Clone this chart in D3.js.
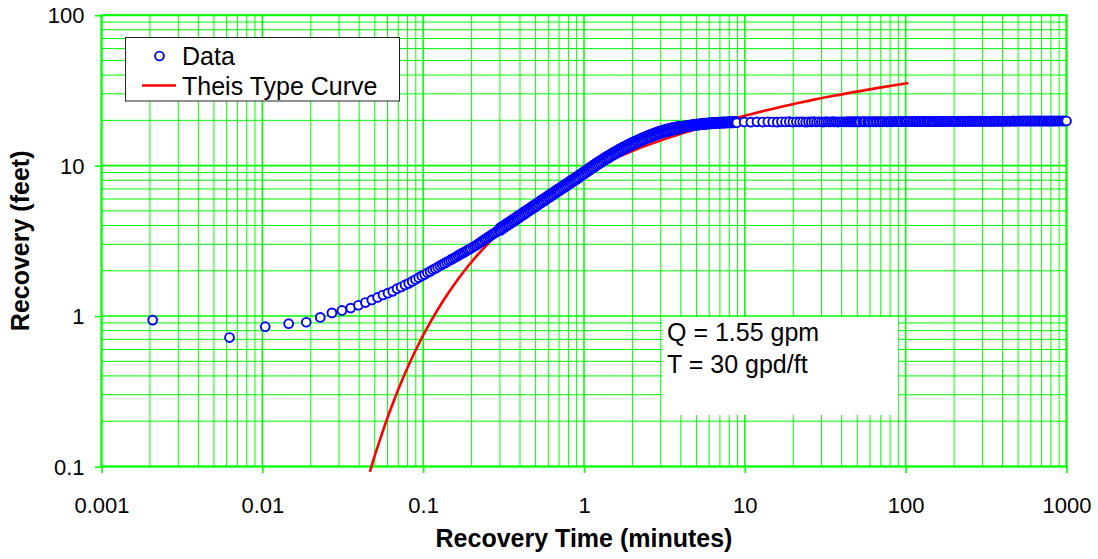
<!DOCTYPE html>
<html>
<head>
<meta charset="utf-8">
<script src="https://cdn.jsdelivr.net/npm/d3@7"></script>
<style>
  html, body { margin: 0; padding: 0; background: #ffffff; }
  svg { display: block; }
  text { font-family: "Liberation Sans", Arial, sans-serif; fill: #000; }
</style>
</head>
<body>
<svg id="chart" width="1098" height="559"></svg>
<script>
// Recovery readings, first part: 0.25-s logger readings
const earlyTime = [0.00208, 0.00625, 0.01042, 0.01458, 0.01875, 0.02292, 0.02708, 0.03125, 0.03542, 0.03958,
  0.04375, 0.04792, 0.05208, 0.05625, 0.06042, 0.06458, 0.06875, 0.07292, 0.07708, 0.08125,
  0.08542, 0.08958, 0.09375, 0.09792, 0.10208, 0.10625, 0.11042, 0.11458, 0.11875, 0.12292,
  0.12708, 0.13125, 0.13542, 0.13958, 0.14375, 0.14792, 0.15208, 0.15625, 0.16042, 0.16458,
  0.16875, 0.17292, 0.17708, 0.18125, 0.18542, 0.18958, 0.19375, 0.19792];
const earlyRecovery = [0.94, 0.72, 0.85, 0.89, 0.91, 0.98, 1.05, 1.09, 1.13, 1.18,
  1.23, 1.28, 1.33, 1.38, 1.42, 1.46, 1.52, 1.56, 1.61, 1.65,
  1.70, 1.75, 1.80, 1.85, 1.89, 1.94, 1.98, 2.03, 2.07, 2.11,
  2.16, 2.20, 2.24, 2.28, 2.32, 2.36, 2.40, 2.44, 2.48, 2.52,
  2.56, 2.60, 2.63, 2.67, 2.71, 2.75, 2.78, 2.82];

// readings 0.2 - 0.3 min
const riseTime = [0.204, 0.209, 0.214, 0.219, 0.224, 0.229, 0.234, 0.240, 0.245, 0.251,
  0.257, 0.263, 0.269, 0.275, 0.282, 0.288, 0.295];
const riseRecovery = [2.87, 2.92, 2.96, 3.01, 3.06, 3.11, 3.16, 3.22, 3.27, 3.32,
  3.38, 3.43, 3.49, 3.54, 3.60, 3.66, 3.73];

// readings 0.3 - 9 min
const denseTime = [
  0.2985, 0.3020, 0.3055, 0.3090, 0.3126, 0.3162, 0.3199, 0.3236, 0.3273, 0.3311,
  0.3350, 0.3388, 0.3428, 0.3467, 0.3508, 0.3548, 0.3589, 0.3631, 0.3673, 0.3715,
  0.3758, 0.3802, 0.3846, 0.3890, 0.3936, 0.3981, 0.4027, 0.4074, 0.4121, 0.4169,
  0.4217, 0.4266, 0.4315, 0.4365, 0.4416, 0.4467, 0.4519, 0.4571, 0.4624, 0.4677,
  0.4732, 0.4786, 0.4842, 0.4898, 0.4955, 0.5012, 0.5070, 0.5129, 0.5188, 0.5248,
  0.5309, 0.5370, 0.5433, 0.5495, 0.5559, 0.5623, 0.5689, 0.5754, 0.5821, 0.5888,
  0.5957, 0.6026, 0.6095, 0.6166, 0.6237, 0.6310, 0.6383, 0.6457, 0.6531, 0.6607,
  0.6683, 0.6761, 0.6839, 0.6918, 0.6998, 0.7079, 0.7161, 0.7244, 0.7328, 0.7413,
  0.7499, 0.7586, 0.7674, 0.7762, 0.7852, 0.7943, 0.8035, 0.8128, 0.8222, 0.8318,
  0.8414, 0.8511, 0.8610, 0.8710, 0.8810, 0.8913, 0.9016, 0.9120, 0.9226, 0.9333,
  0.9441, 0.9550, 0.9661, 0.9772, 0.9886,
  1.000, 1.012, 1.023, 1.035, 1.047, 1.059, 1.072, 1.084, 1.096, 1.109,
  1.122, 1.135, 1.148, 1.161, 1.175, 1.189, 1.202, 1.216, 1.230, 1.245,
  1.259, 1.274, 1.288, 1.303, 1.318, 1.334, 1.349, 1.365, 1.380, 1.396,
  1.413, 1.429, 1.445, 1.462, 1.479, 1.496, 1.514, 1.531, 1.549, 1.567,
  1.585, 1.603, 1.622, 1.641, 1.660, 1.679, 1.698, 1.718, 1.738, 1.758,
  1.778, 1.799, 1.820, 1.841, 1.862, 1.884, 1.905, 1.928, 1.950, 1.972,
  1.995, 2.018, 2.042, 2.065, 2.089, 2.113, 2.138, 2.163, 2.188, 2.213,
  2.239, 2.265, 2.291, 2.317, 2.344, 2.371, 2.399, 2.427, 2.455, 2.483,
  2.512, 2.541, 2.570, 2.600, 2.630, 2.661, 2.692, 2.723, 2.754, 2.786,
  2.818, 2.851, 2.884, 2.917, 2.951, 2.985, 3.020, 3.055, 3.090, 3.126,
  3.162, 3.199, 3.236, 3.273, 3.311, 3.350, 3.388, 3.428, 3.467, 3.508,
  3.548, 3.589, 3.631, 3.673, 3.715, 3.758, 3.802, 3.846, 3.890, 3.936,
  3.981, 4.027, 4.074, 4.121, 4.169, 4.217, 4.266, 4.315, 4.365, 4.416,
  4.467, 4.519, 4.571, 4.624, 4.677, 4.732, 4.786, 4.842, 4.898, 4.955,
  5.012, 5.070, 5.129, 5.188, 5.248, 5.309, 5.370, 5.433, 5.495, 5.559,
  5.623, 5.689, 5.754, 5.821, 5.888, 5.957, 6.026, 6.095, 6.166, 6.237,
  6.310, 6.383, 6.457, 6.531, 6.607, 6.683, 6.761, 6.839, 6.918, 6.998,
  7.079, 7.161, 7.244, 7.328, 7.413, 7.499, 7.586, 7.674, 7.762, 7.852,
  7.943, 8.035, 8.128, 8.222, 8.318, 8.414, 8.511, 8.610, 8.710, 8.810,
  8.913];
const denseRecovery = [
  3.84, 3.71, 3.90, 3.78, 3.97, 3.84, 4.03, 3.91, 4.10, 3.97,
  4.17, 4.04, 4.23, 4.10, 4.30, 4.17, 4.37, 4.23, 4.45, 4.31,
  4.52, 4.38, 4.60, 4.46, 4.68, 4.53, 4.75, 4.61, 4.83, 4.68,
  4.92, 4.76, 5.00, 4.84, 5.08, 4.92, 5.17, 5.01, 5.25, 5.09,
  5.34, 5.17, 5.43, 5.25, 5.51, 5.34, 5.60, 5.43, 5.70, 5.53,
  5.80, 5.62, 5.90, 5.71, 5.99, 5.80, 6.09, 5.90, 6.19, 6.00,
  6.30, 6.11, 6.41, 6.20, 6.51, 6.30, 6.61, 6.41, 6.73, 6.52,
  6.84, 6.62, 6.95, 6.73, 7.06, 6.84, 7.18, 6.96, 7.30, 7.08,
  7.42, 7.18, 7.54, 7.30, 7.66, 7.42, 7.79, 7.55, 7.92, 7.67,
  8.05, 7.80, 8.19, 7.93, 8.32, 8.06, 8.46, 8.20, 8.61, 8.34,
  8.76, 8.49, 8.90, 8.62, 9.05,
  8.77, 9.21, 8.93, 9.37, 9.08, 9.54, 9.24, 9.70, 9.40, 9.86,
  9.56, 10.03, 9.72, 10.21, 9.89, 10.38, 10.05, 10.55, 10.22, 10.73,
  10.39, 10.90, 10.55, 11.07, 10.72, 11.25, 10.89, 11.42, 11.05, 11.59,
  11.22, 11.77, 11.39, 11.94, 11.55, 12.11, 11.72, 12.29, 11.89, 12.46,
  12.05, 12.63, 12.22, 12.81, 12.39, 12.98, 12.55, 13.15, 12.72, 13.33,
  12.89, 13.50, 13.05, 13.67, 13.22, 13.85, 13.39, 14.02, 13.55, 14.19,
  13.72, 14.36, 13.88, 14.52, 14.03, 14.69, 14.19, 14.85, 14.35, 15.01,
  14.50, 15.18, 14.66, 15.34, 14.82, 15.50, 14.97, 15.67, 15.13, 15.83,
  15.29, 15.99, 15.44, 16.14, 15.58, 16.29, 15.73, 16.45, 15.88, 16.60,
  16.02, 16.74, 16.15, 16.88, 16.28, 17.01, 16.41, 17.14, 16.53, 17.27,
  16.66, 17.40, 16.77, 17.51, 16.88, 17.62, 16.98, 17.73, 17.09, 17.84,
  17.20, 17.95, 17.29, 18.04, 17.38, 18.13, 17.46, 18.22, 17.55, 18.31,
  17.64, 18.22, 17.90, 18.30, 17.98, 18.38, 18.06, 18.46, 18.14, 18.54,
  18.22, 18.61, 18.28, 18.68, 18.34, 18.75, 18.40, 18.81, 18.47, 18.88,
  18.53, 18.93, 18.58, 18.98, 18.63, 19.04, 18.69, 19.09, 18.74, 19.14,
  18.79, 19.19, 18.83, 19.23, 18.87, 19.27, 18.91, 19.31, 18.95, 19.35,
  18.99, 19.39, 19.02, 19.42, 19.05, 19.44, 19.07, 19.47, 19.10, 19.50,
  19.13, 19.52, 19.15, 19.54, 19.17, 19.56, 19.19, 19.58, 19.21, 19.60,
  19.23, 19.62, 19.24, 19.63, 19.25, 19.64, 19.27, 19.66, 19.28, 19.67,
  19.29];

// readings after 9 min (1-min logger interval)
const lateTime = [9.9, 10.9, 11.9, 12.9, 13.9, 14.9, 15.9, 16.9, 17.9, 18.9,
  19.9, 20.9, 21.9, 22.9, 23.9, 24.9, 25.9, 26.9, 27.9, 28.9,
  29.9, 30.9, 31.9, 32.9, 33.9, 34.9, 35.9, 36.9, 37.9, 38.9, 39.9,
  41, 42, 43, 44, 45, 46, 47, 48, 49, 50,
  51, 52, 54, 55, 56, 58, 59, 60, 62, 63,
  65, 66, 68, 69, 71, 72, 74, 76, 78, 79,
  81, 83, 85, 87, 89, 91, 93, 95, 98, 100,
  102, 105, 107, 110, 112, 115, 117, 120, 123, 126,
  129, 132, 135, 138, 141, 145, 148, 151, 155, 158,
  162, 166, 170, 174, 178, 182, 186, 191, 195, 200,
  204, 209, 214, 219, 224, 229, 234, 240, 245, 251,
  257, 263, 269, 275, 282, 288, 295, 302, 309, 316,
  324, 331, 339, 347, 355, 363, 372, 380, 389, 398,
  407, 417, 427, 437, 447, 457, 468, 479, 490, 501,
  513, 525, 537, 550, 562, 575, 589, 603, 617, 631,
  646, 661, 676, 692, 708, 724, 741, 759, 776, 794,
  813, 832, 851, 871, 891, 912, 933, 955, 977, 1000];
const lateRecovery = [19.52, 19.45, 19.55, 19.48, 19.58, 19.50, 19.46, 19.56, 19.52, 19.60,
  19.49, 19.55, 19.51, 19.58, 19.47, 19.56, 19.53, 19.60, 19.50, 19.57,
  19.52, 19.48, 19.59, 19.54, 19.50, 19.61, 19.53, 19.57, 19.49, 19.58, 19.55,
  19.58, 19.50, 19.60, 19.52, 19.61, 19.50, 19.59, 19.53, 19.62, 19.51,
  19.60, 19.53, 19.62, 19.52, 19.61, 19.54, 19.63, 19.53, 19.62, 19.55,
  19.63, 19.54, 19.64, 19.55, 19.62, 19.56, 19.65, 19.55, 19.64, 19.57,
  19.65, 19.56, 19.66, 19.57, 19.65, 19.58, 19.67, 19.57, 19.66, 19.59,
  19.67, 19.58, 19.68, 19.59, 19.67, 19.60, 19.69, 19.59, 19.68, 19.61,
  19.69, 19.60, 19.70, 19.61, 19.69, 19.62, 19.71, 19.61, 19.70, 19.63,
  19.71, 19.62, 19.72, 19.63, 19.71, 19.64, 19.73, 19.63, 19.72, 19.65,
  19.73, 19.64, 19.74, 19.65, 19.73, 19.66, 19.75, 19.65, 19.74, 19.67,
  19.75, 19.66, 19.76, 19.67, 19.75, 19.68, 19.77, 19.67, 19.76, 19.69,
  19.77, 19.68, 19.78, 19.69, 19.77, 19.70, 19.79, 19.69, 19.78, 19.71,
  19.79, 19.70, 19.80, 19.71, 19.79, 19.72, 19.81, 19.71, 19.80, 19.73,
  19.81, 19.72, 19.82, 19.73, 19.81, 19.74, 19.83, 19.73, 19.82, 19.75,
  19.83, 19.74, 19.84, 19.75, 19.83, 19.76, 19.85, 19.75, 19.84, 19.77,
  19.85, 19.76, 19.86, 19.77, 19.85, 19.78, 19.87, 19.77, 19.86, 19.80];

// Theis type curve (Q = 1.55 gpm, T = 30 gpd/ft)
const theisTime = [0.0466, 0.05, 0.055, 0.06, 0.066, 0.073, 0.0825, 0.094, 0.1, 0.11,
  0.132, 0.165, 0.19, 0.22, 0.264, 0.33, 0.44, 0.66, 1.0, 1.32,
  2.0, 2.64, 4.0, 6.6, 10, 13.2, 20, 26.4, 40, 66, 104];
const theisRecovery = [0.092, 0.118, 0.161, 0.211, 0.277, 0.363, 0.490, 0.655, 0.746, 0.899,
  1.245, 1.763, 2.145, 2.579, 3.177, 3.986, 5.139, 6.938, 8.94, 10.34,
  12.52, 14.0, 16.27, 19.04, 21.47, 23.15, 25.64, 27.37, 29.77, 32.76, 35.40];

const xTickValues = [0.001, 0.01, 0.1, 1, 10, 100, 1000];
const xTickLabels = ["0.001", "0.01", "0.1", "1", "10", "100", "1000"];
const yTickValues = [0.1, 1, 10, 100];
const yTickLabels = ["0.1", "1", "10", "100"];
const legendLabels = ["Data", "Theis Type Curve"];
const noteLines = ["Q = 1.55 gpm", "T = 30 gpd/ft"];

const svg = d3.select("#chart");
const GREEN = "#00ff00";
const MARK_R = 4.4, MARK_W = 1.9;

const x = d3.scaleLog().domain([0.001, 1000]).range([101.5, 1066.5]);
const y = d3.scaleLog().domain([0.1, 100]).range([466.5, 15.2]);
const [x0, x1] = x.range();
const [y0, y1] = y.range(); // y0 bottom, y1 top

const isDecade = v => Math.abs(Math.log10(v) - Math.round(Math.log10(v))) < 1e-9;

// log grid
const grid = svg.append("g");
grid.selectAll("line.vx").data(x.ticks()).join("line")
  .attr("x1", d => x(d)).attr("x2", d => x(d))
  .attr("y1", y1).attr("y2", y0)
  .attr("stroke", GREEN)
  .attr("stroke-width", d => isDecade(d) ? 1.6 : 1);
grid.selectAll("line.hy").data(y.ticks()).join("line")
  .attr("x1", x0).attr("x2", x1)
  .attr("y1", d => y(d)).attr("y2", d => y(d))
  .attr("stroke", GREEN)
  .attr("stroke-width", d => isDecade(d) ? 1.6 : 1);

// plot frame
svg.append("rect")
  .attr("x", x0).attr("y", y1)
  .attr("width", x1 - x0).attr("height", y0 - y1)
  .attr("fill", "none").attr("stroke", GREEN).attr("stroke-width", 2);

// axes: tick marks and labels
const xAxis = svg.append("g").attr("transform", `translate(0,${y0})`)
  .call(d3.axisBottom(x).tickValues(xTickValues)
    .tickFormat((d, i) => xTickLabels[i]).tickSize(6.5));
xAxis.select(".domain").remove();
xAxis.selectAll(".tick line").attr("stroke", GREEN).attr("stroke-width", 1.6);
xAxis.selectAll(".tick text")
  .attr("y", 46).attr("dy", null)
  .style("font-family", '"Liberation Sans", Arial, sans-serif')
  .style("font-size", "22px").attr("fill", "#000");

const yAxis = svg.append("g").attr("transform", `translate(${x0},0)`)
  .call(d3.axisLeft(y).tickValues(yTickValues)
    .tickFormat((d, i) => yTickLabels[i]).tickSize(6.5));
yAxis.select(".domain").remove();
yAxis.selectAll(".tick line").attr("stroke", GREEN).attr("stroke-width", 1.6);
yAxis.selectAll(".tick text")
  .attr("x", -17).attr("dy", "0.35em")
  .style("font-family", '"Liberation Sans", Arial, sans-serif')
  .style("font-size", "22px").attr("fill", "#000");

// axis titles
svg.append("text")
  .attr("x", (x0 + x1) / 2).attr("y", 547)
  .attr("text-anchor", "middle")
  .style("font-size", "25px").style("font-weight", "bold")
  .text("Recovery Time (minutes)");
svg.append("text")
  .attr("transform", `translate(29,${(y0 + y1) / 2}) rotate(-90)`)
  .attr("text-anchor", "middle")
  .style("font-size", "25px").style("font-weight", "bold")
  .text("Recovery (feet)");

// Theis type curve
const theis = theisTime.map((t, i) => [t, theisRecovery[i]]);
svg.append("path")
  .datum(theis)
  .attr("fill", "none").attr("stroke", "#ff0000").attr("stroke-width", 2.6)
  .attr("d", d3.line().x(d => x(d[0])).y(d => y(d[1])).curve(d3.curveMonotoneX));

// measured recovery, drawn in time order
const pairs = (ts, vs) => ts.map((t, i) => [t, vs[i]]);
const data = [].concat(
  pairs(earlyTime, earlyRecovery),
  pairs(riseTime, riseRecovery),
  pairs(denseTime, denseRecovery),
  pairs(lateTime, lateRecovery)
).filter(d => d[1] !== undefined);
svg.append("g").selectAll("circle").data(data).join("circle")
  .attr("cx", d => x(d[0])).attr("cy", d => y(d[1]))
  .attr("r", MARK_R)
  .attr("fill", "#ffffff").attr("stroke", "#0000ff").attr("stroke-width", MARK_W);

// parameter note
svg.append("rect")
  .attr("x", 662).attr("y", 317).attr("width", 236).attr("height", 98)
  .attr("fill", "#ffffff");
svg.append("g").selectAll("text").data(noteLines).join("text")
  .attr("x", 667).attr("y", (d, i) => 341 + i * 32)
  .style("font-size", "25px")
  .text(d => d);

// legend
const lg = svg.append("g");
lg.append("rect")
  .attr("x", 125.5).attr("y", 37.5).attr("width", 274).attr("height", 63.5)
  .attr("fill", "#ffffff").attr("stroke", "#222").attr("stroke-width", 1);
lg.append("circle")
  .attr("cx", 159.5).attr("cy", 56).attr("r", MARK_R)
  .attr("fill", "#ffffff").attr("stroke", "#0000ff").attr("stroke-width", MARK_W);
lg.append("line")
  .attr("x1", 142).attr("x2", 176).attr("y1", 85.5).attr("y2", 85.5)
  .attr("stroke", "#ff0000").attr("stroke-width", 2.6);
lg.selectAll("text").data(legendLabels).join("text")
  .attr("x", 182).attr("y", (d, i) => 64.5 + i * 30)
  .style("font-size", "25px")
  .text(d => d);
</script>
</body>
</html>
